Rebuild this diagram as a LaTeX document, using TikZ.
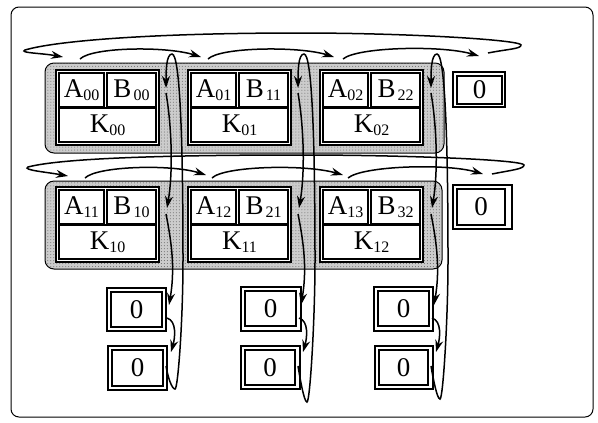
\documentclass[tikz,border=0pt]{standalone}
\usepackage{fontspec}
\setmainfont{Liberation Serif}
\usetikzlibrary{arrows.meta,calc,patterns}
\newcommand\sublbl[3][0bp]{#2\hspace{#1}\raisebox{-3bp}{\fontsize{16bp}{16bp}\selectfont #3}}
\tikzset{
  frame/.style={draw, rounded corners=8bp, line width=1bp},
  shadebox/.style={draw, rounded corners=9bp, line width=1bp, fill=black!20},
  blk/.style={draw, fill=white, anchor=north west, minimum width=103bp, minimum height=75bp, inner sep=0pt, outer sep=0pt, line width=1.1bp},
  inbox/.style={draw, anchor=north west, inner sep=0pt, outer sep=0pt, line width=1.1bp, font=\fontsize{27bp}{27bp}\selectfont},
  zo/.style={draw, fill=white, anchor=north west, inner sep=0pt, outer sep=0pt, line width=1.1bp},
  zi/.style={draw, anchor=north west, inner sep=0pt, outer sep=0pt, line width=1.1bp, font=\fontsize{27bp}{27bp}\selectfont},
  flow/.style={draw, line width=1.5bp, -{Stealth[length=12bp,width=8bp]}}
}
\newcommand\cellblk[6]{%
  \node[blk] (#1) at (#2,#3) {};
  \node[inbox, minimum width=45bp, minimum height=34bp] (#1A) at ($(#1.north west)+(3,3)$) {\sublbl{A}{#4}};
  \node[inbox, minimum width=49bp, minimum height=34bp] (#1B) at ($(#1.north west)+(51,3)$) {\sublbl[2bp]{B}{#5}};
  \node[inbox, minimum width=97bp, minimum height=34bp] (#1K) at ($(#1.north west)+(3,38)$) {\sublbl{K}{#6}};
}
\newcommand\zbox[7]{%
  \node[zo, minimum width=#4bp, minimum height=#5bp] (#1) at (#2,#3) {};
  \node[zi, minimum width=#6bp, minimum height=#7bp] (#1i) at ($(#1.north west)+(4,4)$) {0};
}
\begin{document}
\begin{tikzpicture}[x=1bp,y=-1bp]
\useasboundingbox (0,0) rectangle (598,422);
\draw[frame] (11,7) rectangle (593,417);
% shaded rows
\draw[shadebox] (45,63) rectangle (444,153);
\draw[shadebox] (45,181) rectangle (442,269);
\fill[pattern=dots, pattern color=black!60, rounded corners=9bp] (45,63) rectangle (444,153);
\fill[pattern=dots, pattern color=black!60, rounded corners=9bp] (45,181) rectangle (442,269);
% cells
\cellblk{b00}{56}{70}{00}{00}{00}
\cellblk{b01}{188}{70}{01}{11}{01}
\cellblk{b02}{320}{70}{02}{22}{02}
\cellblk{b10}{56}{187}{11}{10}{10}
\cellblk{b11}{188}{187}{12}{21}{11}
\cellblk{b12}{320}{187}{13}{32}{12}
% zero boxes
\zbox{zr0}{453}{72}{52}{35}{45}{28}
\zbox{zr1}{453}{185}{59}{44}{48}{36}
\zbox{zb00}{107}{288}{59}{43}{51}{35}
\zbox{zb01}{108}{346}{59}{44}{51}{36}
\zbox{zb10}{241}{287}{60}{44}{51}{35}
\zbox{zb11}{241}{346}{59}{43}{50}{35}
\zbox{zb20}{374}{287}{59}{44}{51}{35}
\zbox{zb21}{375}{346}{58}{43}{49}{35}
% turning points of the row loops
\coordinate (r1R) at (521,45);
\coordinate (r1T) at (300,33);
\coordinate (r1L) at (25,50);
\coordinate (r2R) at (524,165);
\coordinate (r2T) at (300,155);
\coordinate (r2L) at (28,167);
% row 1 horizontal flow
\draw[flow] ($(zr0.north west)+(35,-19)$) .. controls +(20,-4) and +(0,4) .. (r1R)
  .. controls +(0,-5) and +(110,0) .. (r1T)
  .. controls +(-150,0) and +(30,-9) .. (r1L)
  .. controls +(-6,3) and +(-22,-4) .. ($(b00.north west)+(7,-13)$);
\draw[flow] ($(b00.north west)+(24,-11)$) .. controls +(12,-12) and +(-35,-11) .. ($(b01.north west)+(13,-13)$);
\draw[flow] ($(b01.north west)+(20,-11)$) .. controls +(12,-12) and +(-35,-11) .. ($(b02.north west)+(14,-13)$);
\draw[flow] ($(b02.north west)+(23,-11)$) .. controls +(14,-12) and +(-38,-11) .. ($(zr0.north west)+(26,-16)$);
% row 2 horizontal flow
\draw[flow] ($(zr1.north west)+(39,-11)$) .. controls +(20,-4) and +(0,4) .. (r2R)
  .. controls +(0,-5) and +(110,0) .. (r2T)
  .. controls +(-150,0) and +(30,-8) .. (r2L)
  .. controls +(-6,3) and +(-22,-4) .. ($(b10.north west)+(12,-11)$);
\draw[flow] ($(b10.north west)+(29,-9)$) .. controls +(12,-12) and +(-35,-11) .. ($(b11.north west)+(18,-12)$);
\draw[flow] ($(b11.north west)+(24,-9)$) .. controls +(12,-12) and +(-38,-11) .. ($(b12.north west)+(23,-12)$);
\draw[flow] ($(b12.north west)+(28,-9)$) .. controls +(14,-12) and +(-38,-11) .. ($(zr1.north west)+(30,-11)$);
% column flows
\foreach \c/\dx/\by in {0/0/389,1/132/402,2/265/399}{
  \begin{scope}[xshift=\dx bp]
    \coordinate (ls\c) at (166,366);
    \coordinate (lb\c) at (175,\by);
    \coordinate (lr\c) at (183,260);
    \coordinate (lt\c) at (172,54);
    \coordinate (le\c) at (166,88);
    \coordinate (va\c) at (166,93);
    \coordinate (vb\c) at (167,208);
    \coordinate (vc\c) at (166,214);
    \coordinate (vd\c) at (169,305);
    \coordinate (ve\c) at (167,318);
    \coordinate (vf\c) at (171,352);
  \end{scope}
  \draw[flow] (ls\c) .. controls +(2,12) and +(-3,0) .. (lb\c)
    .. controls +(3,0) and +(0,60) .. (lr\c)
    .. controls +(0,-120) and +(8,0) .. (lt\c)
    .. controls +(-6,0) and +(0,-15) .. (le\c);
  \draw[flow] (va\c) .. controls +(6,35) and +(6,-35) .. (vb\c);
  \draw[flow] (vc\c) .. controls +(6,30) and +(6,-35) .. (vd\c);
  \draw[flow] (ve\c) .. controls +(10,3) and +(4,-14) .. (vf\c);
}
\end{tikzpicture}
\end{document}
